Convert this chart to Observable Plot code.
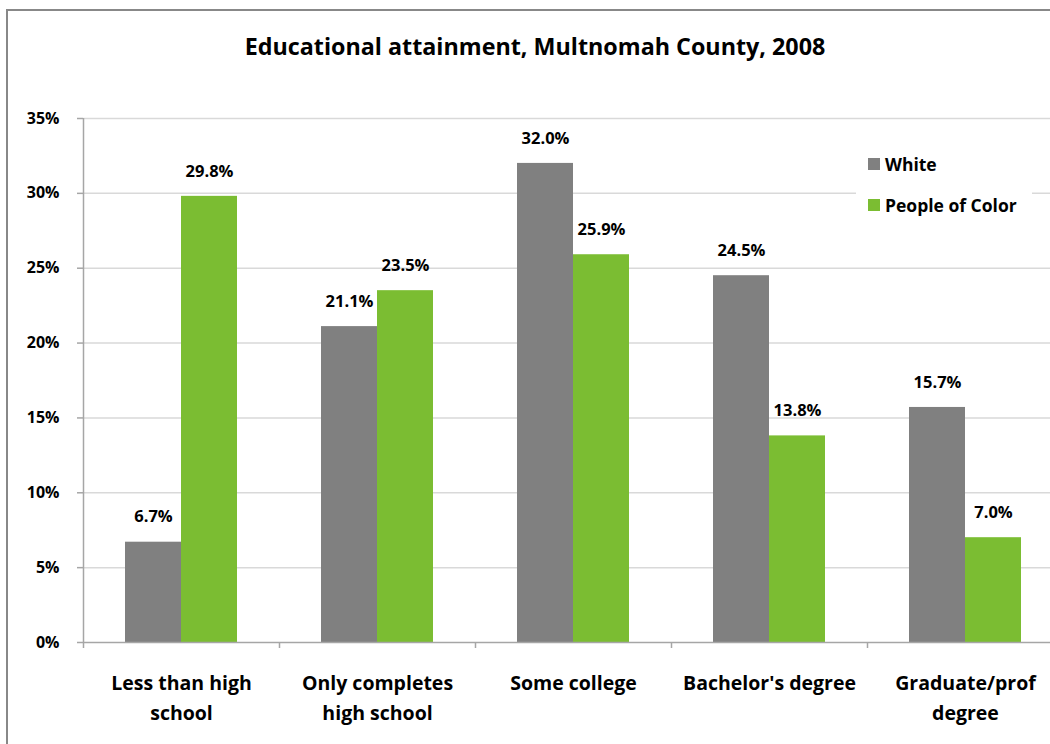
<!DOCTYPE html>
<html>
<head>
<meta charset="utf-8">
<script src="https://cdn.jsdelivr.net/npm/d3@7"></script>
<script src="https://cdn.jsdelivr.net/npm/@observablehq/plot@0.6"></script>
<style>
  html, body { margin: 0; padding: 0; background: #fff; overflow: hidden; }
  #wrap { position: relative; width: 1050px; height: 744px; overflow: hidden; font-family: "Open Sans", Lato, sans-serif; font-weight: bold; }
  #border { position: absolute; left: 6px; top: 9px; width: 1200px; height: 900px; border: 2px solid #888; box-sizing: border-box; }
  #title { position: absolute; left: 20px; width: 1030px; top: 30px; text-align: center; font-size: 23.3px; color: #000; white-space: nowrap; }
  #chart { position: absolute; left: 0; top: 0; width: 1100px; }
  #legend { position: absolute; left: 856px; top: 142px; width: 176px; height: 84px; background: #fff; font-size: 17.5px; }
  .item { position: absolute; left: 12px; display: flex; align-items: center; white-space: nowrap; }
  .sw { width: 12px; height: 12px; margin-right: 5px; }
</style>
</head>
<body>
<div id="wrap">
  <div id="border"></div>
  <div id="chart"></div>
  <div id="title">Educational attainment, Multnomah County, 2008</div>
  <div id="legend"></div>
</div>
<script>
const categories = ["Less than high school", "Only completes high school", "Some college", "Bachelor's degree", "Graduate/prof degree"];
const categoryLabels = ["Less than high\nschool", "Only completes\nhigh school", "Some college", "Bachelor's degree", "Graduate/prof\ndegree"];
const series = ["White", "People of Color"];
const whiteValues = [6.7, 21.1, 32.0, 24.5, 15.7];
const pocValues = [29.8, 23.5, 25.9, 13.8, 7.0];
const yTicks = [0, 5, 10, 15, 20, 25, 30, 35];
const colors = ["#808080", "#7bbd32"];

const rows = categories.flatMap((c, i) => [
  {category: c, series: series[0], value: whiteValues[i]},
  {category: c, series: series[1], value: pocValues[i]}
]);

const width = 1070, height = 744;
const marginLeft = 83, marginRight = 7, marginTop = 118, marginBottom = 102;
const plotW = width - marginLeft - marginRight;
const bw = plotW / categories.length;
const barW = 56;
const outer = (bw - 2 * barW) / 2;
const axisColor = "#a6a6a6";
const font = "'Open Sans', Lato, sans-serif";

const chart = Plot.plot({
  width, height, marginLeft, marginRight, marginTop, marginBottom,
  style: {fontFamily: font, fontWeight: "bold", color: "#000", background: "transparent", overflow: "visible", maxWidth: "none"},
  x: {domain: categories, padding: 0, axis: null},
  y: {domain: [0, 35], axis: null},
  marks: [
    Plot.ruleY(yTicks.filter(d => d > 0), {stroke: "#d9d9d9", strokeWidth: 1.5}),
    Plot.barY(rows.filter(d => d.series === series[0]), {x: "category", y: "value", fill: colors[0], insetLeft: outer, insetRight: outer + barW}),
    Plot.barY(rows.filter(d => d.series === series[1]), {x: "category", y: "value", fill: colors[1], insetLeft: outer + barW, insetRight: outer}),
    Plot.ruleY(yTicks, {stroke: axisColor, strokeWidth: 1.5, insetLeft: -6, insetRight: plotW}),
    Plot.ruleY([0], {stroke: axisColor, strokeWidth: 1.5}),
    Plot.ruleX([categories[0]], {dx: -bw / 2, stroke: axisColor, strokeWidth: 1.5}),
    Plot.ruleX(categories, {x: d => d, dx: -bw / 2, y1: 0, y2: 0, insetBottom: -6, stroke: axisColor, strokeWidth: 1.5}),
    Plot.text(yTicks, {y: d => d, frameAnchor: "left", dx: -24, textAnchor: "end", text: d => d + "%", fontSize: 16, fontWeight: "bold", fill: "#000"}),
    Plot.text(rows.filter(d => d.series === series[0]), {x: "category", y: "value", dx: -barW / 2, dy: -25, text: d => d.value.toFixed(1) + "%", fontSize: 16.5, fontWeight: "bold", fill: "#000"}),
    Plot.text(rows.filter(d => d.series === series[1]), {x: "category", y: "value", dx: barW / 2, dy: -25, text: d => d.value.toFixed(1) + "%", fontSize: 16.5, fontWeight: "bold", fill: "#000"}),
    Plot.text(categories, {x: d => d, frameAnchor: "bottom", lineAnchor: "top", dy: 26, lineHeight: 1.55, text: (d, i) => categoryLabels[i], fontSize: 19.5, fontWeight: "bold", fill: "#000"})
  ]
});
document.getElementById("chart").appendChild(chart);

const legend = document.getElementById("legend");
series.forEach((s, i) => {
  const item = document.createElement("div");
  item.className = "item";
  item.style.top = (10 + i * 41) + "px";
  item.innerHTML = `<span class="sw" style="background:${colors[i]}"></span><span>${s}</span>`;
  legend.appendChild(item);
});
</script>
</body>
</html>
